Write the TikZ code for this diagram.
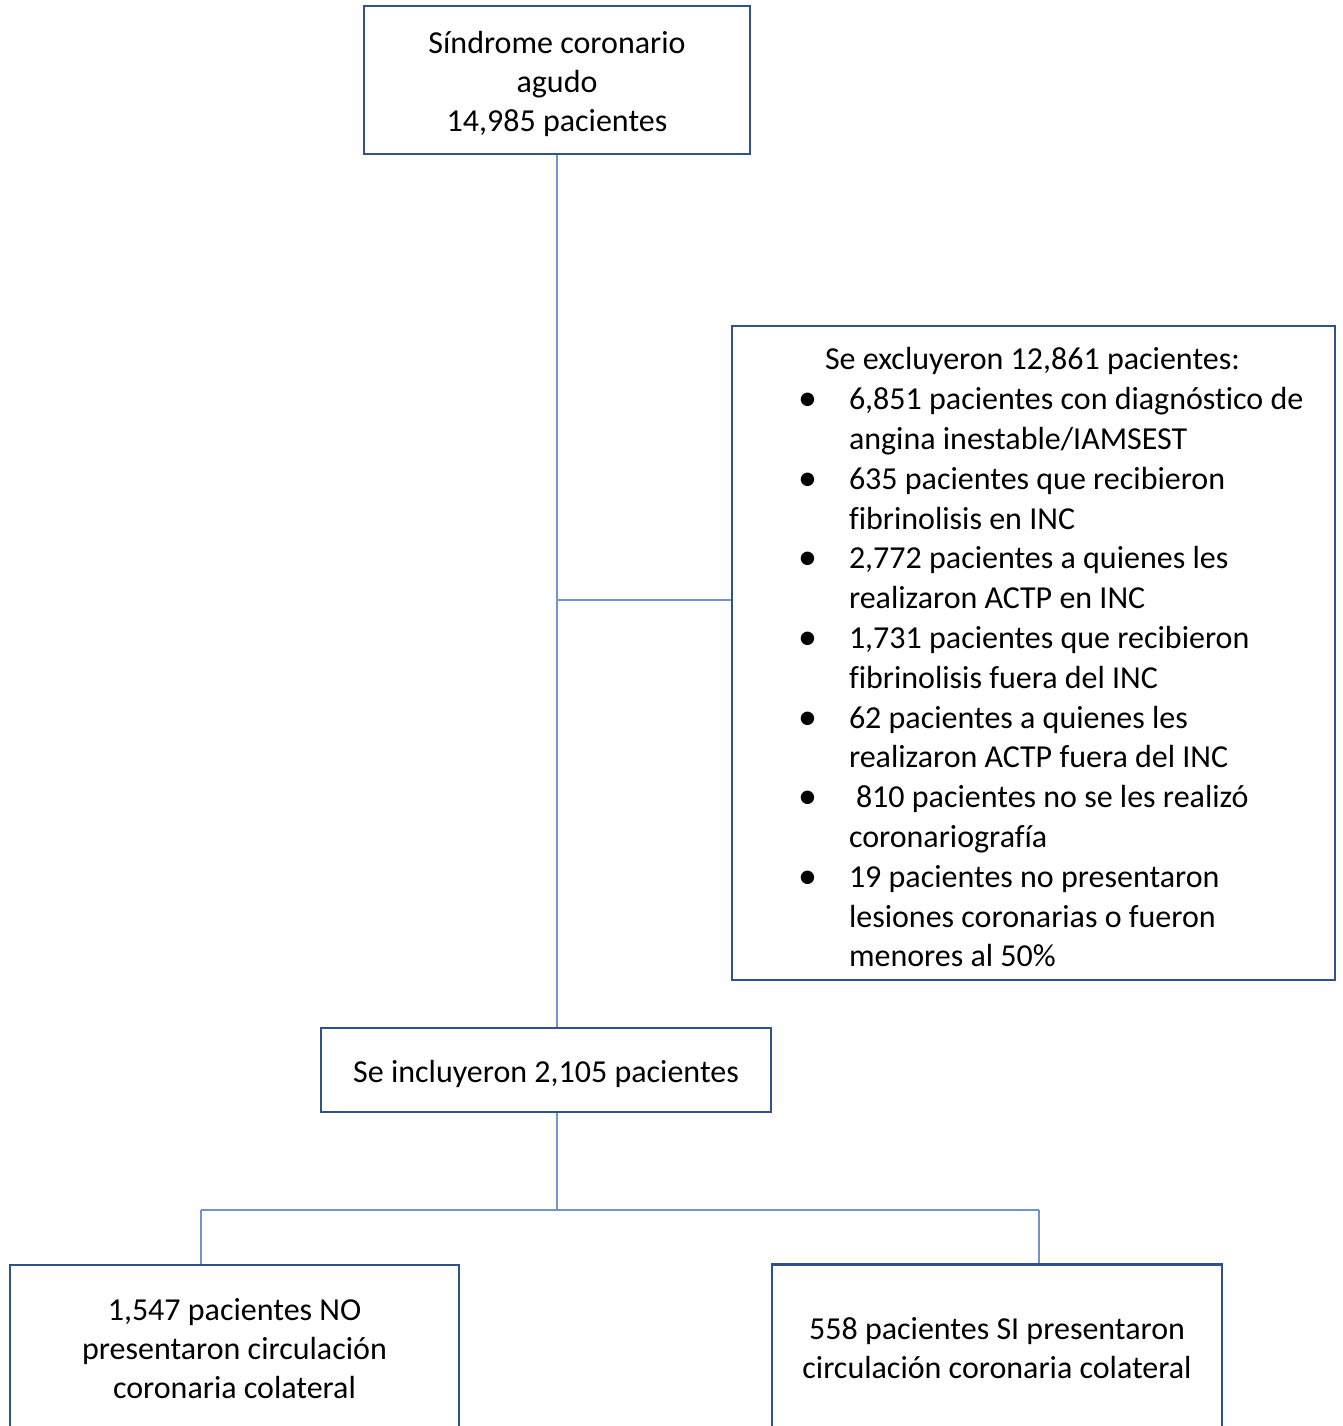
\documentclass[tikz,border=0pt]{standalone}
\usepackage{fontspec}
\setmainfont{Carlito}[Ligatures=NoCommon]
\definecolor{boxblue}{HTML}{2F528F}
\definecolor{lineblue}{HTML}{7094D2}
\newcommand{\blt}{\hspace*{50pt}\makebox[51pt][l]{\fontsize{38}{39.8}\selectfont\raisebox{-1pt}{•}}}
\newcommand{\cnt}{\hspace*{101pt}}
\begin{document}
\begin{tikzpicture}[x=1pt,y=-1pt,
  box/.style={draw=boxblue, line width=2.5pt, inner sep=0pt, align=center,
    font=\fontsize{32}{39}\selectfont},
  conn/.style={draw=lineblue, line width=1.6pt}]
\useasboundingbox (0,0) rectangle (1343,1426);
\clip (0,0) rectangle (1343,1426);
\node[box, minimum width=386, minimum height=148] (top) at (557,80)
  {\rule{0pt}{31pt}Síndrome coronario\\agudo\\14,985 pacientes};
\node[box, minimum width=603, minimum height=654, text width=571, inner xsep=16,
  align=flush left, font=\fontsize{32}{39.8}\selectfont] (excl) at (1033.5,653)
  {\spaceskip=0pt\xspaceskip=0pt\relax
   \rule{0pt}{31pt}\hspace*{77pt}Se excluyeron 12,861 pacientes:\\
   \blt 6,851 pacientes con diagnóstico de\\
   \cnt angina inestable/IAMSEST\\
   \blt 635 pacientes que recibieron\\
   \cnt fibrinolisis en INC\\
   \blt 2,772 pacientes a quienes les\\
   \cnt realizaron ACTP en INC\\
   \blt 1,731 pacientes que recibieron\\
   \cnt fibrinolisis fuera del INC\\
   \blt 62 pacientes a quienes les\\
   \cnt realizaron ACTP fuera del INC\\
   \blt \hspace*{7pt}810 pacientes no se les realizó\\
   \cnt coronariografía\\
   \blt 19 pacientes no presentaron\\
   \cnt lesiones coronarias o fueron\\
   \cnt menores al 50\%};
\node[box, minimum width=450, minimum height=84, text height=27, text depth=3] (mid) at (546,1070)
  {Se incluyeron 2,105 pacientes};
\node[box, minimum width=449, minimum height=168] (left) at (234.5,1349)
  {1,547 pacientes NO\\presentaron circulación\\coronaria colateral};
\node[box, minimum width=450, minimum height=168] (right) at (997,1348.5)
  {558 pacientes SI presentaron\\circulación coronaria colateral};
\coordinate (j1) at (557,600);
\coordinate (j2) at (557,1210);
\coordinate (jl) at (201,1210);
\coordinate (jr) at (1039,1210);
\draw[conn] (top.south) -- (top.south |- mid.north);
\draw[conn] (j1) -- (j1 -| excl.west);
\draw[conn] (top.south |- mid.south) -- (j2);
\draw[conn] (jl) -- (jr);
\draw[conn] (jl) -- (jl |- left.north);
\draw[conn] (jr) -- (jr |- right.north);
\end{tikzpicture}
\end{document}
